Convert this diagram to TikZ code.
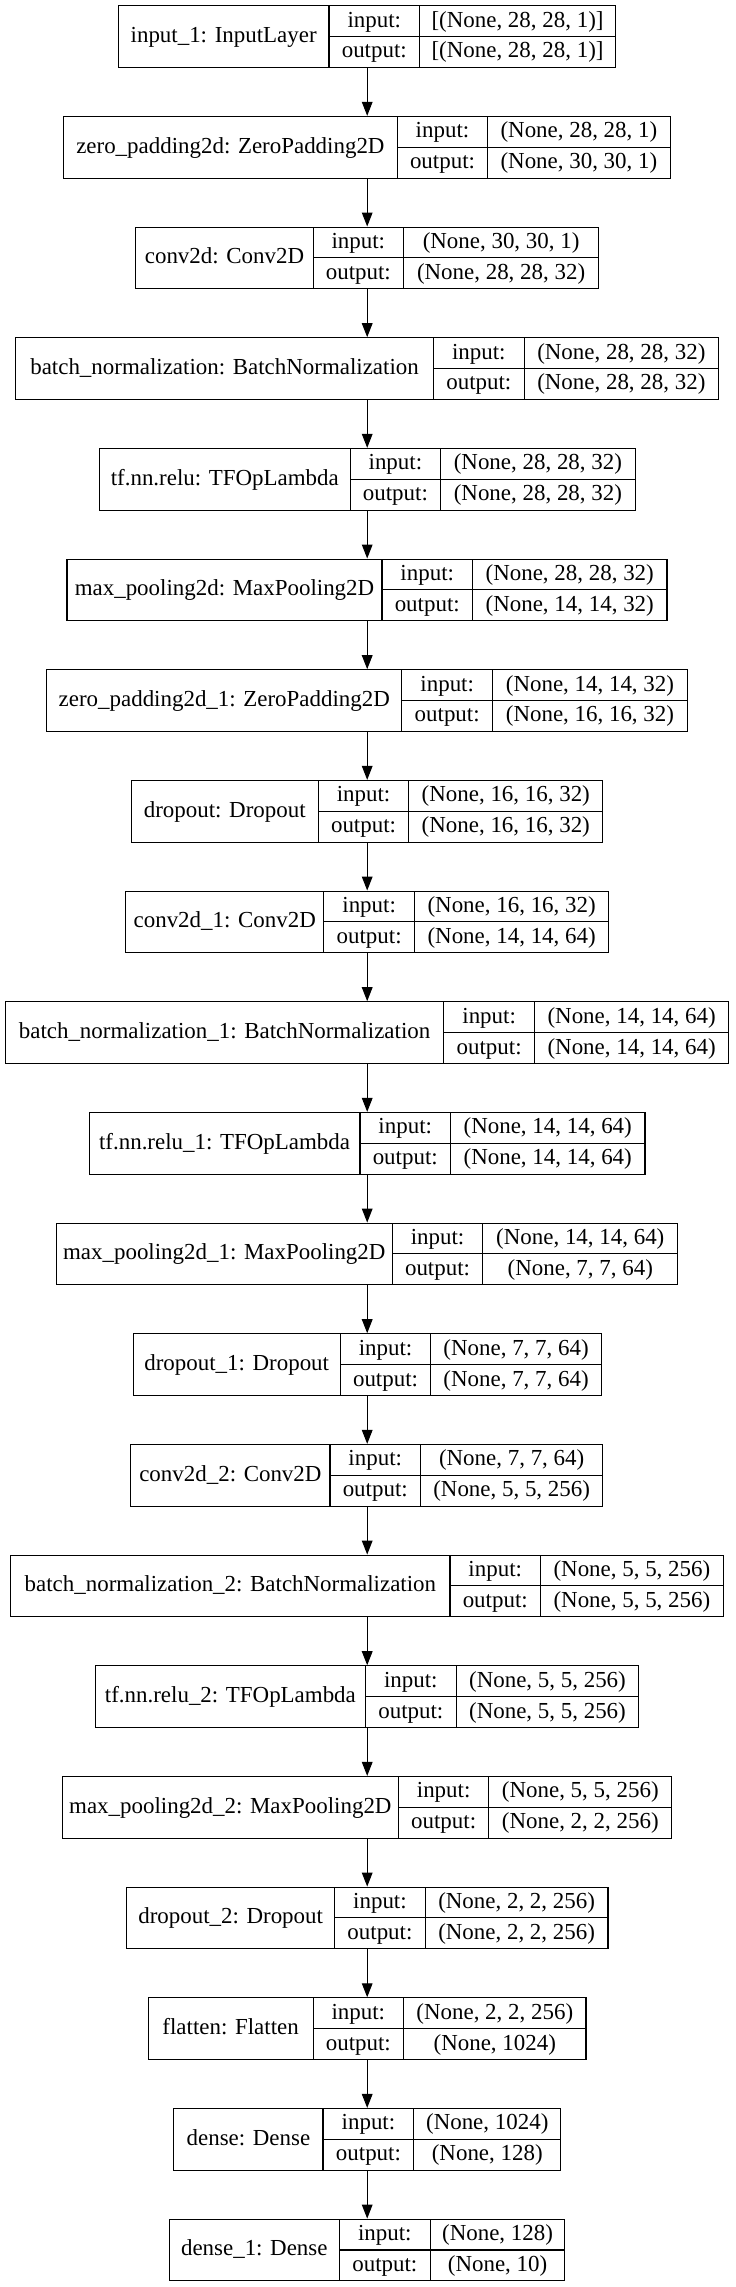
\documentclass[tikz,border=0pt]{standalone}
\usepackage{fontspec}
\setmainfont{Liberation Serif}
\usetikzlibrary{fit,arrows.meta}
\tikzset{
  layerbox/.style={draw=black, line width=0.8pt, inner sep=0pt},
  divider/.style={draw=black, line width=0.8pt},
  lbl/.style={inner sep=0pt, anchor=base, font=\fontsize{17.2pt}{21pt}\selectfont},
  flow/.style={draw=black, line width=0.8pt, -{Triangle[length=10.5pt,width=8pt]}},
}
\newcommand\mylayer[9]{%
  \pgfmathsetmacro\yt{5.7+110.67*#2}%
  \pgfmathsetmacro\yb{\yt+61.7}%
  \pgfmathsetmacro\ym{\yt+30.85}%
  \node[layerbox, fit={(#3,\yt) (#6,\yb)}] (#1) {};
  \draw[divider] (#4,\yt) -- (#4,\yb) (#5,\yt) -- (#5,\yb) (#4,\ym) -- (#6,\ym);
  \node[lbl] (#1-name) at ({(#3+#4)/2},{\ym+6}) {#7};
  \node[lbl] (#1-il) at ({(#4+#5)/2},{\yt+15.42+6}) {input:};
  \node[lbl] (#1-ol) at ({(#4+#5)/2},{\yt+46.27+6}) {output:};
  \node[lbl] (#1-iv) at ({(#5+#6)/2},{\yt+15.42+6}) {#8};
  \node[lbl] (#1-ov) at ({(#5+#6)/2},{\yt+46.27+6}) {#9};
}
\begin{document}
\begin{tikzpicture}[x=0.75pt, y=-0.75pt]
\useasboundingbox[fill=white] (0,0) rectangle (735,2287);
\coordinate (axis) at (367.2,0);
\mylayer{in1}{0}{118.3}{329.0}{419.6}{615.5}{input\_1: InputLayer}{[(None, 28, 28, 1)]}{[(None, 28, 28, 1)]}
\mylayer{zp}{1}{63.3}{397.5}{487.5}{670.3}{zero\_padding2d: ZeroPadding2D}{(None, 28, 28, 1)}{(None, 30, 30, 1)}
\mylayer{cv}{2}{135.9}{313.1}{403.6}{598.6}{conv2d: Conv2D}{(None, 30, 30, 1)}{(None, 28, 28, 32)}
\mylayer{bn}{3}{15.5}{433.6}{524.1}{718.6}{batch\_normalization: BatchNormalization}{(None, 28, 28, 32)}{(None, 28, 28, 32)}
\mylayer{relu}{4}{99.4}{350.2}{440.6}{635.2}{tf.nn.relu: TFOpLambda}{(None, 28, 28, 32)}{(None, 28, 28, 32)}
\mylayer{mp}{5}{67.0}{382.0}{472.5}{667.0}{max\_pooling2d: MaxPooling2D}{(None, 28, 28, 32)}{(None, 14, 14, 32)}
\mylayer{zpa}{6}{46.9}{401.7}{492.7}{687.2}{zero\_padding2d\_1: ZeroPadding2D}{(None, 14, 14, 32)}{(None, 16, 16, 32)}
\mylayer{do}{7}{131.2}{318.3}{408.8}{602.8}{dropout: Dropout}{(None, 16, 16, 32)}{(None, 16, 16, 32)}
\mylayer{cva}{8}{125.6}{323.9}{414.4}{608.9}{conv2d\_1: Conv2D}{(None, 16, 16, 32)}{(None, 14, 14, 64)}
\mylayer{bna}{9}{5.2}{443.9}{534.4}{728.9}{batch\_normalization\_1: BatchNormalization}{(None, 14, 14, 64)}{(None, 14, 14, 64)}
\mylayer{relua}{10}{89.1}{360.0}{450.5}{645.0}{tf.nn.relu\_1: TFOpLambda}{(None, 14, 14, 64)}{(None, 14, 14, 64)}
\mylayer{mpa}{11}{56.3}{392.3}{482.8}{677.8}{max\_pooling2d\_1: MaxPooling2D}{(None, 14, 14, 64)}{(None, 7, 7, 64)}
\mylayer{doa}{12}{133.1}{340.3}{430.8}{601.4}{dropout\_1: Dropout}{(None, 7, 7, 64)}{(None, 7, 7, 64)}
\mylayer{cvb}{13}{130.8}{330.0}{420.5}{602.8}{conv2d\_2: Conv2D}{(None, 7, 7, 64)}{(None, 5, 5, 256)}
\mylayer{bnb}{14}{10.8}{450.0}{540.5}{723.3}{batch\_normalization\_2: BatchNormalization}{(None, 5, 5, 256)}{(None, 5, 5, 256)}
\mylayer{relub}{15}{95.2}{365.6}{456.1}{638.9}{tf.nn.relu\_2: TFOpLambda}{(None, 5, 5, 256)}{(None, 5, 5, 256)}
\mylayer{mpb}{16}{62.3}{398.4}{488.9}{671.7}{max\_pooling2d\_2: MaxPooling2D}{(None, 5, 5, 256)}{(None, 2, 2, 256)}
\mylayer{dob}{17}{126.6}{334.7}{425.2}{608.0}{dropout\_2: Dropout}{(None, 2, 2, 256)}{(None, 2, 2, 256)}
\mylayer{fl}{18}{148.1}{313.1}{403.6}{586.0}{flatten: Flatten}{(None, 2, 2, 256)}{(None, 1024)}
\mylayer{de}{19}{173.9}{323.0}{413.9}{560.6}{dense: Dense}{(None, 1024)}{(None, 128)}
\mylayer{dea}{20}{169.2}{339.4}{430.3}{564.8}{dense\_1: Dense}{(None, 128)}{(None, 10)}
\foreach \a/\b in {in1/zp, zp/cv, cv/bn, bn/relu, relu/mp, mp/zpa, zpa/do, do/cva, cva/bna, bna/relua, relua/mpa, mpa/doa, doa/cvb, cvb/bnb, bnb/relub, relub/mpb, mpb/dob, dob/fl, fl/de, de/dea}
  \draw[flow] (\a.south -| axis) -- (\b.north -| axis);
\end{tikzpicture}
\end{document}
